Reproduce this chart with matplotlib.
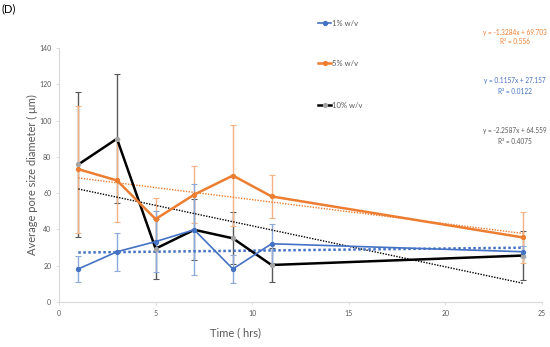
import matplotlib
matplotlib.use("Agg")
import matplotlib.pyplot as plt
import numpy as np
from matplotlib.lines import Line2D

plt.rcParams['font.family'] = ['Lato', 'DejaVu Sans']

time = [1, 3, 5, 7, 9, 11, 24]
s1_mean = [18.2, 27.7, 33.3, 39.8, 18.2, 32.1, 27.7]
s1_err = [7.0, 10.5, 17.0, 25.0, 7.6, 10.8, 3.0]
s5_mean = [73.2, 67.0, 45.7, 59.2, 69.7, 58.2, 35.6]
s5_err = [35.0, 22.7, 11.5, 15.6, 28.0, 11.7, 14.0]
s10_mean = [75.8, 90.0, 29.4, 39.8, 35.1, 20.4, 25.6]
s10_err = [40.0, 35.5, 16.5, 16.7, 14.4, 9.2, 13.4]
labels = ["1% w/v", "5% w/v", "10% w/v"]
trend_slope = [0.1157, -1.3284, -2.2587]
trend_icpt = [27.157, 69.703, 64.559]
trend_r2 = ["0.0122", "0.556", "0.4075"]
trend_x = [1, 24]
xticks = [0, 5, 10, 15, 20, 25]
yticks = [0, 20, 40, 60, 80, 100, 120, 140]

line_cols = ["#4472C4", "#ED7D31", "#000000"]
err_cols = ["#8EA9DB", "#F4B183", "#595959"]
mk_cols = ["#4472C4", "#ED7D31", "#A5A5A5"]
lws = [1.2, 1.8, 1.8]
trend_lw = [1.8, 1.0, 1.0]

fig = plt.figure(figsize=(5.5, 3.47), dpi=100)
ax = fig.add_axes([59/550, 1-302/347, (542-59)/550, (302-48)/347])

means = [s1_mean, s5_mean, s10_mean]
errs = [s1_err, s5_err, s10_err]
order = [2, 1, 0]
for i in order:
    ax.errorbar(time, means[i], yerr=errs[i], fmt='none', ecolor=err_cols[i],
                elinewidth=1.0, capsize=2.0, capthick=0.8, zorder=2)
for i in order:
    tx = np.array(trend_x, dtype=float)
    ax.plot(tx, trend_slope[i]*tx + trend_icpt[i], linestyle=(0, (1, 1)),
            color=line_cols[i], lw=trend_lw[i], zorder=3)
for i in order:
    ax.plot(time, means[i], color=line_cols[i], lw=lws[i], marker='o', ms=2.8,
            mfc=mk_cols[i], mec=mk_cols[i], zorder=4)

ax.set_xlim(0, 25)
ax.set_ylim(0, 140)
ax.set_xticks(xticks)
ax.set_yticks(yticks)
for s in ['top', 'right']:
    ax.spines[s].set_visible(False)
for s in ['left', 'bottom']:
    ax.spines[s].set_color('#D9D9D9')
    ax.spines[s].set_linewidth(0.8)
ax.tick_params(colors='#595959', labelsize=5, length=2, width=0.6)
ax.tick_params(axis='both', color='#D9D9D9')

fig.text(32/550, 1-175/347, "Average pore size diameter ( \u03bcm)", rotation=90,
         ha='center', va='center', fontsize=8, color='#595959')
fig.text(235/550, 1-333/347, "Time ( hrs)", ha='center', va='center',
         fontsize=8, color='#595959')
fig.text(2/550, 1-9/347, "(D)", ha='left', va='center', fontsize=8, color='black')

# legend
leg_y = [23, 63, 105]
for i in range(3):
    y = 1 - leg_y[i]/347
    fig.add_artist(Line2D([318/550, 331/550], [y, y], color=line_cols[i], lw=lws[i],
                          transform=fig.transFigure))
    fig.add_artist(Line2D([324.5/550], [y], marker='o', ms=2.8, mfc=mk_cols[i],
                          mec=mk_cols[i], transform=fig.transFigure))
    fig.text(332/550, y, labels[i], ha='left', va='center', fontsize=5.5, color='#595959')

# trendline equations
eq_y = [(81, 91), (32, 41), (131, 141)]
for i in range(3):
    sgn = '+' if trend_icpt[i] >= 0 else '-'
    eq = f"y = {trend_slope[i]:.4f}x {sgn} {abs(trend_icpt[i]):.3f}"
    col = line_cols[i] if i < 2 else '#595959'
    fig.text(515/550, 1-eq_y[i][0]/347, eq, ha='center', va='center', fontsize=4.7, color=col)
    fig.text(515/550, 1-eq_y[i][1]/347, f"R\u00b2 = {trend_r2[i]}", ha='center', va='center',
             fontsize=4.7, color=col)

fig.savefig("out.png", dpi=100)
